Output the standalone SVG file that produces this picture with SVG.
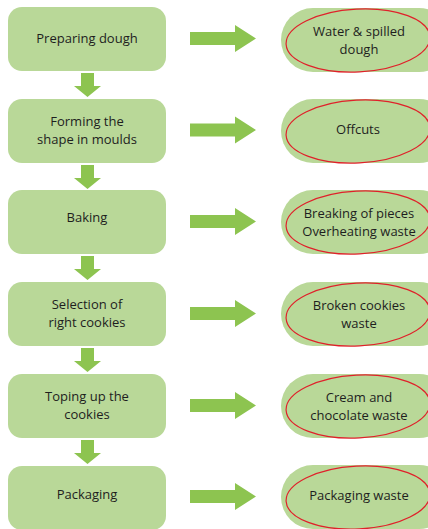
<svg xmlns="http://www.w3.org/2000/svg" width="428" height="529" viewBox="0 0 428 529">
<style>
.box{fill:#b9d898;}
.pill{fill:#b9d898;}
.ring{fill:none;stroke:#e0202a;stroke-width:1.2;}
.arr{fill:#8dc450;}
text{font-family:"Open Sans","Liberation Sans",sans-serif;font-size:13px;fill:#1e1e1e;text-anchor:middle;}
</style>
<rect width="428" height="529" fill="#fff"/>
<g id="connectors">
<path class="arr" d="M190,32 H235 V25 L256,38.5 L235,52 V45 H190 Z"/>
<path class="arr" d="M190,123.5 H235 V116.5 L256,130 L235,143.5 V136.5 H190 Z"/>
<path class="arr" d="M190,215 H235 V208 L256,221.5 L235,235 V228 H190 Z"/>
<path class="arr" d="M190,307 H235 V300 L256,313.5 L235,327 V320 H190 Z"/>
<path class="arr" d="M190,399 H235 V392 L256,405.5 L235,419 V412 H190 Z"/>
<path class="arr" d="M190,490 H235 V483 L256,496.5 L235,510 V503 H190 Z"/>
<path class="arr" d="M81,73 H94 V86 H101 L87.5,97 L74,86 H81 Z"/>
<path class="arr" d="M81,165 H94 V178 H101 L87.5,189 L74,178 H81 Z"/>
<path class="arr" d="M81,256 H94 V269 H101 L87.5,280 L74,269 H81 Z"/>
<path class="arr" d="M81,348 H94 V361 H101 L87.5,372 L74,361 H81 Z"/>
<path class="arr" d="M81,440 H94 V453 H101 L87.5,464 L74,453 H81 Z"/>
</g>
<g id="step1"><rect class="box" x="8" y="7" width="158" height="64" rx="14"/><text x="87" y="43">Preparing dough</text></g>
<g id="step2"><rect class="box" x="8" y="99" width="158" height="64" rx="14"/><text x="87" y="126">Forming the</text><text x="87" y="144">shape in moulds</text></g>
<g id="step3"><rect class="box" x="8" y="190" width="158" height="64" rx="14"/><text x="87" y="222">Baking</text></g>
<g id="step4"><rect class="box" x="8" y="282" width="158" height="64" rx="14"/><text x="87" y="309">Selection of</text><text x="87" y="327">right cookies</text></g>
<g id="step5"><rect class="box" x="8" y="374" width="158" height="64" rx="14"/><text x="87" y="401">Toping up the</text><text x="87" y="419">cookies</text></g>
<g id="step6"><rect class="box" x="8" y="466" width="158" height="64" rx="14"/><text x="87" y="499">Packaging</text></g>
<g id="waste1"><rect class="pill" x="281" y="8" width="170" height="64" rx="32"/><ellipse class="ring" cx="358" cy="40.5" rx="72" ry="31.5" transform="rotate(-3 358 40.5)"/><text x="359" y="36">Water &amp; spilled</text><text x="359" y="54">dough</text></g>
<g id="waste2"><rect class="pill" x="281" y="99" width="170" height="64" rx="32"/><ellipse class="ring" cx="358" cy="131.5" rx="72" ry="31.5" transform="rotate(-3 358 131.5)"/><text x="358" y="134">Offcuts</text></g>
<g id="waste3"><rect class="pill" x="281" y="190" width="170" height="64" rx="32"/><ellipse class="ring" cx="358" cy="222.5" rx="72" ry="31.5" transform="rotate(-3 358 222.5)"/><text x="359" y="218">Breaking of pieces</text><text x="359" y="236">Overheating waste</text></g>
<g id="waste4"><rect class="pill" x="281" y="282" width="170" height="64" rx="32"/><ellipse class="ring" cx="358" cy="314.5" rx="72" ry="31.5" transform="rotate(-3 358 314.5)"/><text x="359" y="310">Broken cookies</text><text x="359" y="328">waste</text></g>
<g id="waste5"><rect class="pill" x="281" y="374" width="170" height="64" rx="32"/><ellipse class="ring" cx="358" cy="406.5" rx="72" ry="31.5" transform="rotate(-3 358 406.5)"/><text x="359" y="402">Cream and</text><text x="359" y="420">chocolate waste</text></g>
<g id="waste6"><rect class="pill" x="281" y="465" width="170" height="64" rx="32"/><ellipse class="ring" cx="358" cy="497.5" rx="72" ry="31.5" transform="rotate(-3 358 497.5)"/><text x="359" y="500">Packaging waste</text></g>
</svg>
